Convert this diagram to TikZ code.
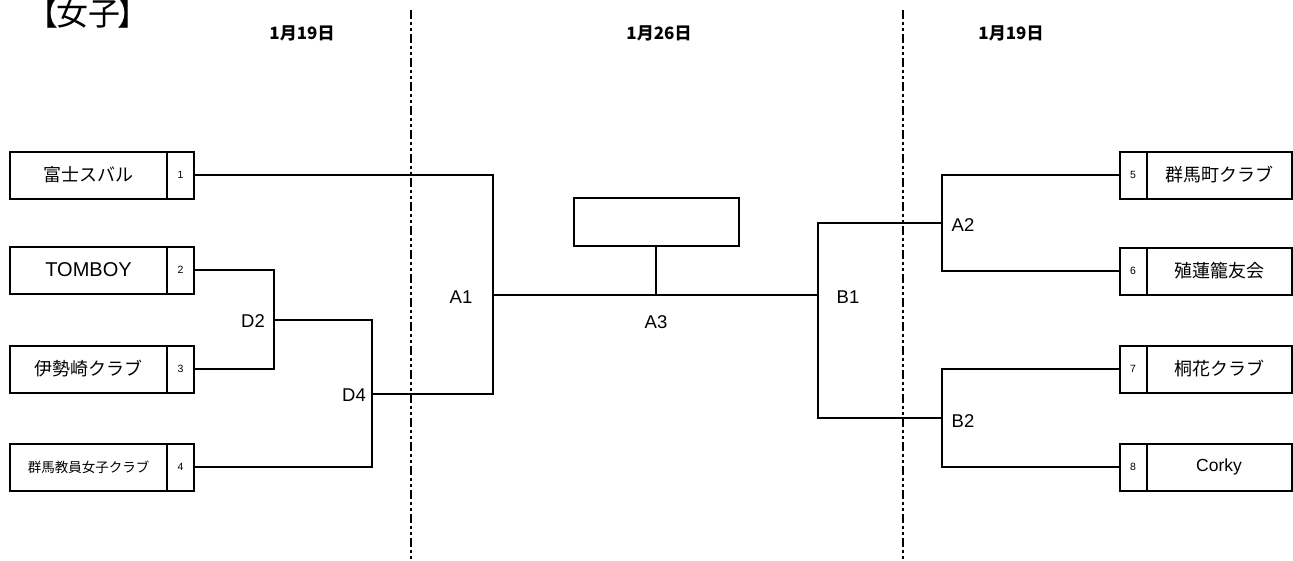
\documentclass[tikz,border=0pt]{standalone}
\usepackage{fontspec}
\setmainfont{Liberation Sans}
\newfontfamily\jp{Noto Sans CJK JP}
\begin{document}
\begin{tikzpicture}[x=1pt,y=-1pt,
  namebox/.style={draw,line width=2pt,rectangle,outer sep=0pt,minimum width=157pt,minimum height=47pt,inner sep=0pt,font=\fontsize{18}{20}\selectfont\jp},
  numbox/.style={draw,line width=2pt,rectangle,outer sep=0pt,minimum width=27pt,minimum height=47pt,inner sep=0pt,font=\fontsize{10.5}{12}\selectfont},
  conn/.style={line width=1.8pt},
  lbl/.style={font=\fontsize{18.5}{20}\selectfont,inner sep=0pt},
  datelbl/.style={font=\fontsize{17}{19}\selectfont\jp\bfseries,inner sep=0pt},
  divider/.style={line width=2.8pt,dash pattern=on 9pt off 3pt on 3pt off 3pt on 3pt off 3pt}]
\useasboundingbox (0,0) rectangle (1293,560);
% title and dates
\node[font=\fontsize{32}{36}\selectfont\jp,anchor=base,inner sep=0pt] (title) at (88,25) {【\kern-0.08em 女子\kern-0.08em 】};
\node[datelbl] (d1) at (302,33) {1月19日};
\node[datelbl] (d2) at (659,33) {1月26日};
\node[datelbl] (d3) at (1011,33) {1月19日};
% dividers
\coordinate (v1t) at (411,10); \coordinate (v1b) at (411,560);
\coordinate (v2t) at (903,10); \coordinate (v2b) at (903,560);
\draw[divider] (v1t) -- (v1b);
\draw[divider] (v2t) -- (v2b);
% left teams
\node[namebox] (t1) at (88.5,175) {富士スバル};
\node[numbox,anchor=west] (n1) at (t1.east) {1};
\node[namebox,font=\fontsize{20}{22}\selectfont] (t2) at (88.5,270) {TOMBOY};
\node[numbox,anchor=west] (n2) at (t2.east) {2};
\node[namebox] (t3) at (88.5,369) {伊勢崎クラブ};
\node[numbox,anchor=west] (n3) at (t3.east) {3};
\node[namebox,font=\fontsize{13.5}{15}\selectfont\jp] (t4) at (88.5,467) {群馬教員女子クラブ};
\node[numbox,anchor=west] (n4) at (t4.east) {4};
% right teams
\node[numbox] (n5) at (1133,175) {5};
\node[namebox,minimum width=145pt,anchor=west] (t5) at (n5.east) {群馬町クラブ};
\node[numbox] (n6) at (1133,271) {6};
\node[namebox,minimum width=145pt,anchor=west] (t6) at (n6.east) {殖蓮籠友会};
\node[numbox] (n7) at (1133,369) {7};
\node[namebox,minimum width=145pt,anchor=west] (t7) at (n7.east) {桐花クラブ};
\node[numbox] (n8) at (1133,467) {8};
\node[namebox,minimum width=145pt,anchor=west,font=\fontsize{17.5}{19}\selectfont] (t8) at (n8.east) {Corky};
% champion box
\node[draw,line width=2pt,rectangle,outer sep=0pt,minimum width=165pt,minimum height=48pt,inner sep=0pt] (win) at (656,222) {};
% junctions
\coordinate (D2) at (274,320);
\coordinate (D4) at (372,394);
\coordinate (A1) at (493,295);
\coordinate (B1) at (818,295);
\coordinate (A2) at (942,223);
\coordinate (B2) at (942,418);
\coordinate (A3) at (656,295);
% D2
\draw[conn] (n2.east) -| (D2) |- (n3.east);
% D4
\draw[conn] (D2) -| (D4) |- (n4.east);
% A1
\draw[conn] (n1.east) -| (A1) |- (D4);
% A2
\draw[conn] (n5.west) -| (A2) |- (n6.west);
% B2
\draw[conn] (n7.west) -| (B2) |- (n8.west);
% B1
\draw[conn] (A2) -| (B1) |- (B2);
% final
\draw[conn] (A1) -- (B1);
\draw[conn] (win.south) -- (A3);
% labels
\node[lbl] (lD2) at (253,321) {D2};
\node[lbl] (lD4) at (354,395) {D4};
\node[lbl] (lA1) at (461,297) {A1};
\node[lbl] (lA3) at (656,322) {A3};
\node[lbl] (lB1) at (848,297) {B1};
\node[lbl] (lA2) at (963,225) {A2};
\node[lbl] (lB2) at (963,421) {B2};
\end{tikzpicture}
\end{document}
